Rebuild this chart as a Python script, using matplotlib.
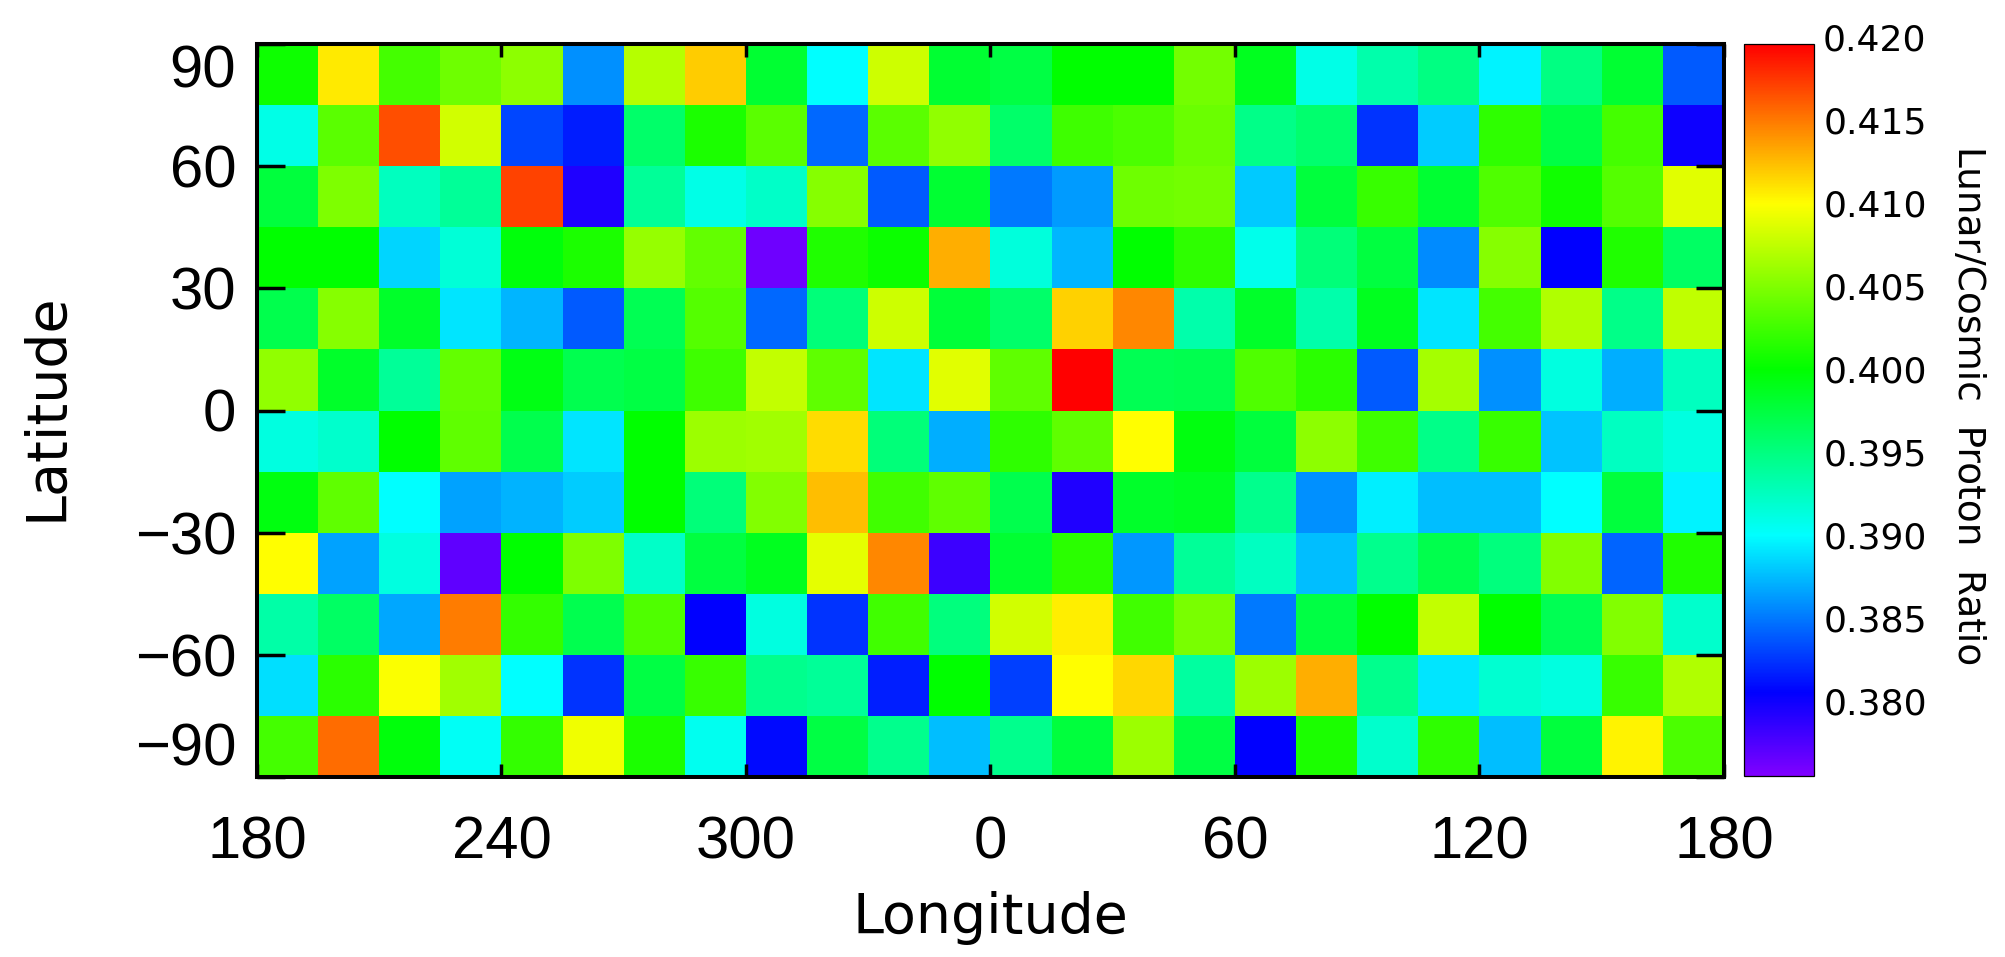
#Importing Packages
import numpy as np
import matplotlib
matplotlib.use('Agg')
import matplotlib.pyplot as plt
from matplotlib.colors import LinearSegmentedColormap, Normalize

'''
Data read off the picture, one list per latitude band, west to east
'''
lat_82 = [.4005,.4108,.4027,.4043,.4055,.3859,.4071,.4119,.3980,.3900,.4080,.3980,.3973,.4000,.4000,.4045,.3988,.3910,.3933,.3949,.3896,.3949,.3980,.3839]
lat_67 = [.3910,.4035,.4166,.4082,.3831,.3816,.3959,.4010,.4035,.3844,.4035,.4057,.3959,.4024,.4029,.4041,.3947,.3957,.3824,.3881,.4018,.3973,.4027,.3800]
lat_52 = [.3976,.4049,.3925,.3941,.4171,.3793,.3941,.3910,.3922,.4053,.3839,.3980,.3850,.3863,.4043,.4045,.3880,.3976,.4022,.3980,.4031,.4006,.4033,.4088]
lat_37 = [.4000,.4000,.3885,.3916,.3996,.4010,.4059,.4039,.3762,.4012,.4004,.4130,.3914,.3873,.4000,.4018,.3908,.3953,.3975,.3857,.4053,.3805,.4012,.3961]
lat_22 = [.3970,.4053,.3984,.3891,.3873,.3839,.3967,.4033,.3844,.3953,.4080,.3978,.3959,.4117,.4145,.3933,.3984,.3933,.3988,.3891,.4027,.4069,.3947,.4075]
lat_07 = [.4057,.3984,.3941,.4039,.3992,.3969,.3973,.4024,.4076,.4037,.3891,.4088,.4037,.4196,.3967,.3969,.4031,.4016,.3839,.4065,.3859,.3912,.3870,.3925]
lat_m07 = [.3912,.3920,.4000,.4037,.3970,.3891,.4000,.4061,.4063,.4113,.3953,.3870,.4018,.4037,.4100,.3994,.3976,.4055,.4024,.3947,.4022,.3878,.3924,.3912]
lat_m22 = [.3994,.4037,.3900,.3866,.3872,.3881,.4000,.3953,.4051,.4124,.4025,.4037,.3970,.3793,.3984,.3986,.3945,.3859,.3894,.3876,.3876,.3900,.3976,.3896]
lat_m37 = [.4100,.3866,.3912,.3768,.4000,.4049,.3922,.3975,.3988,.4090,.4145,.3782,.3980,.4016,.3861,.3941,.3924,.3876,.3945,.3970,.3951,.4051,.3842,.4012]
lat_m52 = [.3935,.3961,.3867,.4149,.4020,.3969,.4031,.3805,.3912,.3824,.4025,.3951,.4082,.4106,.4025,.4047,.3850,.3973,.4000,.4076,.4000,.3967,.4051,.3920]
lat_m67 = [.3888,.4016,.4098,.4063,.3900,.3824,.3973,.4022,.3945,.3941,.3817,.4000,.3829,.4100,.4115,.3937,.4061,.4130,.3945,.3891,.3918,.3912,.4022,.4069]
lat_m82 = [.4027,.4155,.3996,.3904,.4020,.4094,.4010,.3906,.3809,.3973,.3945,.3876,.3945,.3976,.4061,.3973,.3805,.4010,.3920,.4018,.3876,.3976,.4104,.4029]

x_ticks = [0,60,120,180,240,300,360]
x_labels = ['180','240','300','0','60','120','180']
y_ticks = [-90,-60,-30,0,30,60,90]
y_labels = ['\u221290','\u221260','\u221230','0','30','60','90']
cbar_ticks = [.380,.385,.390,.395,.400,.405,.410,.415]

vmin = .3755
vmax = .4196
W, H = 2006, 957
plt.rcParams['font.family'] = 'Liberation Sans'

'''
Colour table, anchored where the colour bar shows pure colours
'''
anchors = [(vmin,'#8000ff'),(.3805,'#0000ff'),(.390,'#00ffff'),(.400,'#00ff00'),(.410,'#ffff00'),(vmax,'#ff0000')]
rainbow = LinearSegmentedColormap.from_list('rainbow_idl',[((v-vmin)/(vmax-vmin),c) for v,c in anchors],N=512)

def box(left,top,right,bottom):
    return [left/W,1-bottom/H,(right-left)/W,(bottom-top)/H]

'''
Plotting
'''
fig = plt.figure(figsize=(W/100,H/100),dpi=100,facecolor='white')
ax = fig.add_axes(box(257,44,1724,777))
cax = fig.add_axes(box(1744,44,1814,776))

ratio = np.array([lat_82,lat_67,lat_52,lat_37,lat_22,lat_07,lat_m07,lat_m22,lat_m37,lat_m52,lat_m67,lat_m82])
lon_edges = np.linspace(0,360,ratio.shape[1]+1)
lat_edges = np.linspace(90,-90,ratio.shape[0]+1)
mesh = ax.pcolormesh(lon_edges,lat_edges,ratio,cmap=rainbow,norm=Normalize(vmin,vmax))

ax.set_xlim(0,360)
ax.set_ylim(-90,90)
ax.set_xticks(x_ticks,x_labels)
ax.set_yticks(y_ticks,y_labels)
ax.tick_params(axis='x',direction='in',top=True,length=9.4,width=2.5,labelsize=43,pad=28)
ax.tick_params(axis='y',direction='in',right=True,length=20.5,width=2.5,labelsize=43,pad=15)
for s in ax.spines.values():
    s.set_linewidth(2.9)
# end labels stay inside the frame height
ylabs = ax.get_yticklabels()
ylabs[0].set_va('bottom')
ylabs[-1].set_va('top')

fig.text(990/W,1-933/H,'Longitude',fontsize=40,family='DejaVu Sans',ha='center',va='baseline')
fig.text(73/W,1-407/H,'Latitude',fontsize=40,family='DejaVu Sans',rotation=90,ha='right',va='center')

cbar = fig.colorbar(mesh,cax=cax,ticks=cbar_ticks)
cbar.outline.set_linewidth(0.9)
cax.tick_params(length=0,pad=7)
cax.set_yticklabels(['%.3f'%t for t in cbar_ticks],fontsize=26,family='DejaVu Sans')
# 0.420 sits just over the top of the bar
cax.text(1.13,.420,'0.420',fontsize=26,family='DejaVu Sans',va='center_baseline',ha='left',transform=cax.get_yaxis_transform())
fig.text(1968/W,1-406/H,'Lunar/Cosmic  Proton  Ratio',fontsize=27,family='DejaVu Sans',rotation=270,ha='center',va='center')

fig.savefig('out.png',dpi=100)
